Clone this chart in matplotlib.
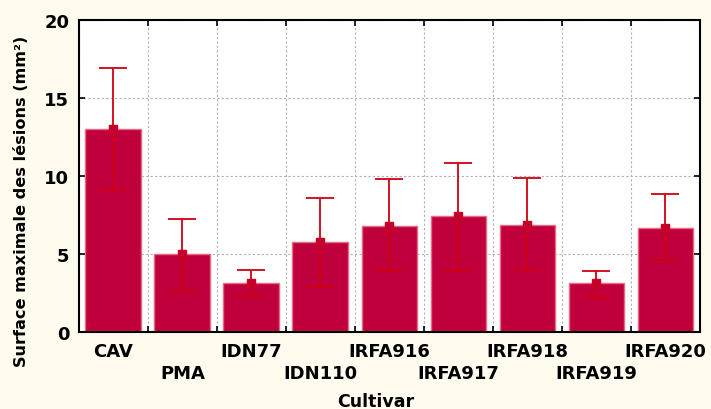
import matplotlib
matplotlib.use('Agg')
import matplotlib.pyplot as plt
import numpy as np

plt.rcParams['font.family'] = ['DejaVu Sans']
plt.rcParams['font.weight'] = 'bold'

cultivars = ['CAV', 'PMA', 'IDN77', 'IDN110', 'IRFA916', 'IRFA917', 'IRFA918', 'IRFA919', 'IRFA920']
means = [13.0, 5.0, 3.14, 5.77, 6.8, 7.43, 6.88, 3.14, 6.69]
err_low = [9.1, 2.6, 2.3, 2.9, 3.9, 3.93, 4.0, 2.26, 4.6]
err_high = [16.9, 7.26, 4.0, 8.6, 9.8, 10.85, 9.87, 3.93, 8.83]
yticks = [0, 5, 10, 15, 20]

bg = '#FFFCEF'
fig = plt.figure(figsize=(7.11, 4.10), dpi=100, facecolor=bg)
ax = fig.add_axes([0.111, 0.188, 0.8735, 0.761])

x = np.arange(len(cultivars))
ax.bar(x, means, width=0.81, color='#C0003C', edgecolor='#E86A84', linewidth=1.0, zorder=2)
yerr = [np.array(means) - np.array(err_low), np.array(err_high) - np.array(means)]
ax.errorbar(x, means, yerr=yerr, fmt='s', color='#D00010', ecolor='#D00010',
            markersize=6, markerfacecolor='#C0003C', markeredgecolor='#D00010',
            elinewidth=1.3, capsize=10, capthick=1.3, zorder=3)

ax.set_xlim(-0.5, len(cultivars) - 0.5)
ax.set_ylim(0, 20)
ax.set_yticks(yticks)
ax.set_yticklabels([str(v) for v in yticks], fontsize=13, fontweight='bold')

# gridlines at category boundaries
bounds = np.arange(len(cultivars) + 1) - 0.5
ax.set_xticks(bounds)
ax.set_xticklabels([])
ax.grid(True, which='major', color='#B0B0B0', linestyle=(0, (2, 2)), linewidth=0.8, zorder=0)
ax.set_axisbelow(True)
ax.tick_params(axis='both', which='major', direction='in', length=4, width=1.2,
               top=True, right=True)
ax.tick_params(axis='y', pad=7)

for s in ax.spines.values():
    s.set_linewidth(1.5)
    s.set_color('black')

for i, name in enumerate(cultivars):
    off = -0.061 if i % 2 == 0 else -0.131
    ax.text(i, off, name, transform=ax.get_xaxis_transform(), ha='center', va='center',
            fontsize=13, fontweight='bold')

ax.text(0.478, -0.221, 'Cultivar', transform=ax.transAxes, ha='center', va='center',
        fontsize=12.5, fontweight='bold')
ax.text(-0.092, 0.421, 'Surface maximale des lésions (mm²)', transform=ax.transAxes,
        ha='center', va='center', rotation=90, fontsize=11.6, fontweight='bold')

fig.savefig('out.png', dpi=100, facecolor=bg)
